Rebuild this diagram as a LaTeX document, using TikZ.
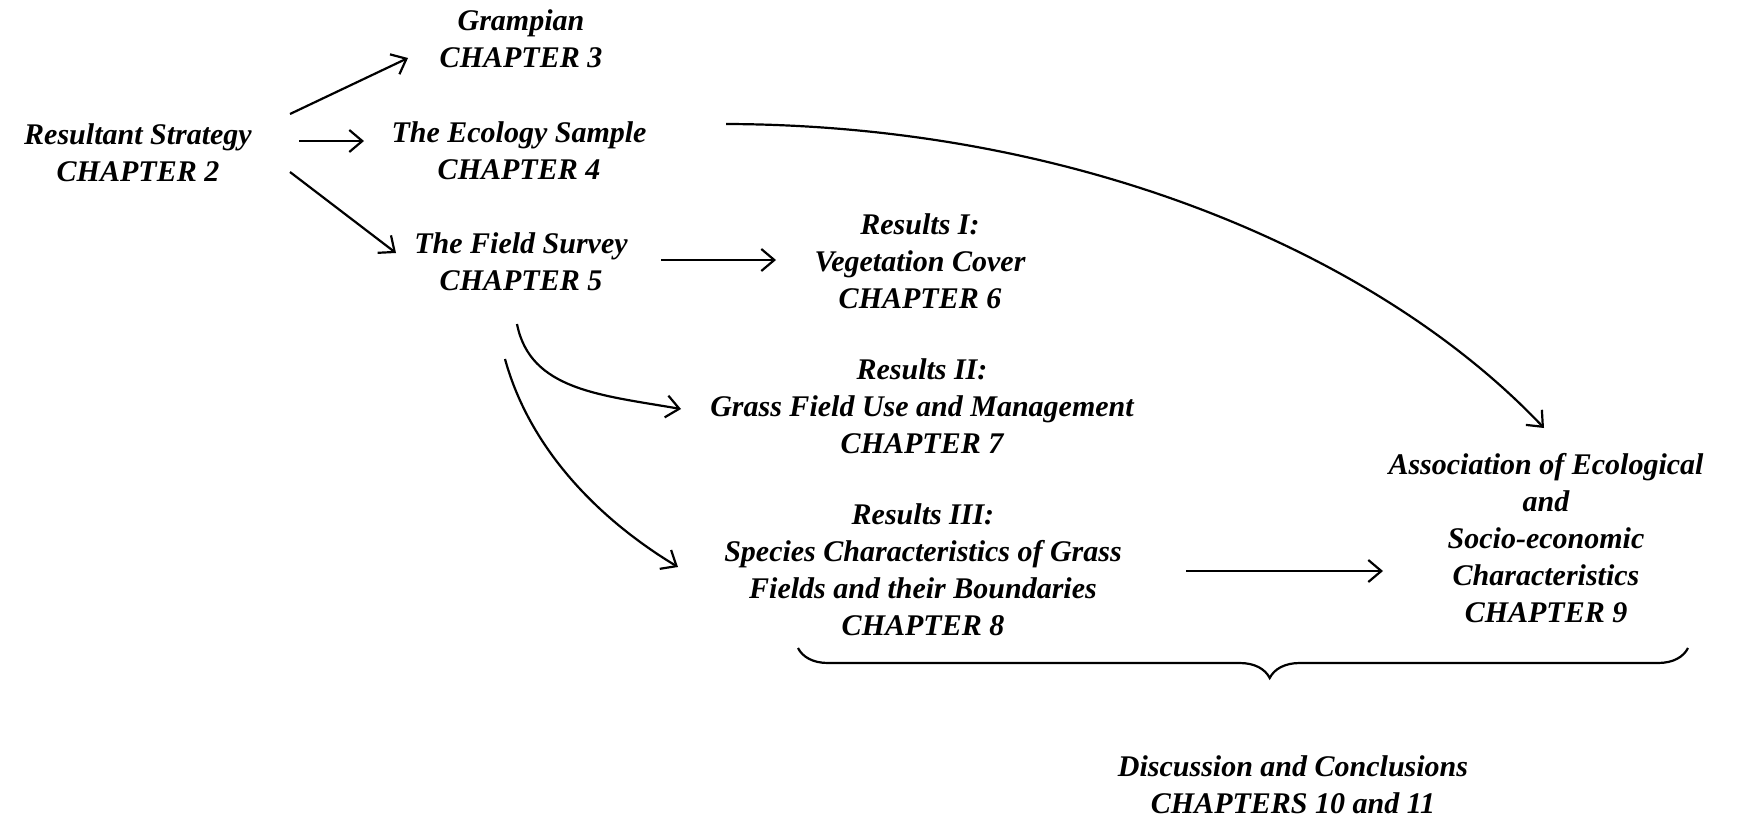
\documentclass[tikz,border=0pt]{standalone}
\usepackage{fontspec}
\setmainfont{Liberation Serif}
\usetikzlibrary{arrows.meta,calc,decorations.pathreplacing}
\tikzset{
  lbl/.style={align=center,inner sep=0pt,font=\bfseries\itshape\fontsize{30}{37}\selectfont},
  arr/.style={line width=2.2pt,-{Straight Barb[length=13pt,width=22pt,line width=2.2pt]}},
  bracestyle/.style={line width=2.2pt,decorate,decoration={brace,mirror,amplitude=30pt,aspect=0.53}}
}
\begin{document}
\begin{tikzpicture}[x=1pt,y=-1pt]
\useasboundingbox (0,0) rectangle (1738,820);
\node[lbl] (rs) at (138,153) {Resultant Strategy\\CHAPTER 2};
\node[lbl] (gr) at (521,39) {Grampian\\CHAPTER 3};
\node[lbl] (ec) at (519,151) {The Ecology Sample\\CHAPTER 4};
\node[lbl] (fs) at (521,262) {The Field Survey\\CHAPTER 5};
\node[lbl] (r1) at (920,261) {Results I:\\Vegetation Cover\\CHAPTER 6};
\node[lbl] (r2) at (922,406) {Results II:\\Grass Field Use and Management\\CHAPTER 7};
\node[lbl] (r3) at (923,570) {Results III:\\Species Characteristics of Grass\\Fields and their Boundaries\\CHAPTER 8};
\node[lbl] (as) at (1546,538) {Association of Ecological\\and\\Socio-economic\\Characteristics\\CHAPTER 9};
\node[lbl] (dc) at (1293,785) {Discussion and Conclusions\\CHAPTERS 10 and 11};
\coordinate (bl) at (798,648);
\coordinate (br) at (1688,648);

\draw[arr] ($(rs)+(152,-39)$) -- ($(gr)+(-113,19)$);
\draw[arr] ($(rs)+(161,-12)$) -- ($(ec)+(-155,-10)$);
\draw[arr] ($(rs)+(152,19)$) -- ($(fs)+(-125,-9)$);
\draw[arr] ($(fs)+(140,-2)$) -- ($(r1)+(-144,-1)$);
\draw[arr] ($(ec)+(207,-27)$) .. controls (1080,125) and (1380,255) .. ($(as)+(-2,-110)$);
\draw[arr] ($(fs)+(-4,62)$) .. controls (530,390) and (600,395) .. ($(r2)+(-241,3)$);
\draw[arr] ($(fs)+(-16,97)$) .. controls (530,450) and (600,520) .. ($(r3)+(-245,-3)$);
\draw[arr] ($(r3)+(263,1)$) -- ($(as)+(-163,33)$);
\draw[bracestyle] (bl) -- (br);
\end{tikzpicture}
\end{document}
